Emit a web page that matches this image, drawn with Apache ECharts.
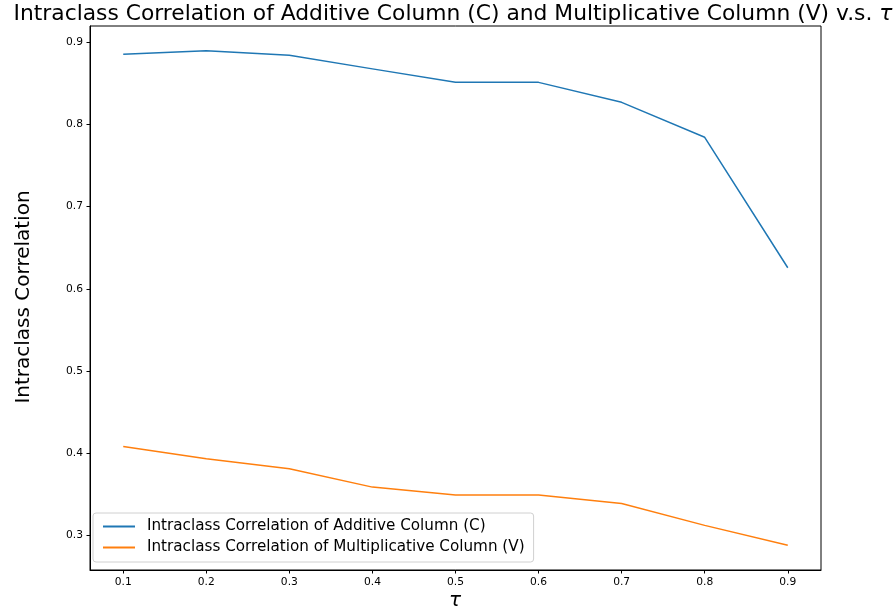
<!DOCTYPE html>
<html>
<head>
<meta charset="utf-8">
<script src="https://cdn.jsdelivr.net/npm/echarts@6/dist/echarts.min.js"></script>
<style>
html,body{margin:0;padding:0;background:#fff;}
#chart{width:896px;height:614px;}
</style>
</head>
<body>
<div id="chart"></div>
<script>
const tau = [0.1, 0.2, 0.3, 0.4, 0.5, 0.6, 0.7, 0.8, 0.9];
const additiveICC = [0.8854, 0.8898, 0.8842, 0.8677, 0.8513, 0.8513, 0.8270, 0.7844, 0.6256];
const multiplicativeICC = [0.4080, 0.3930, 0.3810, 0.3586, 0.3490, 0.3490, 0.3386, 0.3120, 0.2878];
const xTicks = [0.1, 0.2, 0.3, 0.4, 0.5, 0.6, 0.7, 0.8, 0.9];
const yTicks = [0.3, 0.4, 0.5, 0.6, 0.7, 0.8, 0.9];
const seriesNames = ['Intraclass Correlation of Additive Column (C)', 'Intraclass Correlation of Multiplicative Column (V)'];
const titleMain = 'Intraclass Correlation of Additive Column (C) and Multiplicative Column (V) v.s. ';
const titleSym = '\u03C4';

const font = 'DejaVu Sans';
const chart = echarts.init(document.getElementById('chart'));
const pairs = (xs, ys) => xs.map((x, i) => [x, ys[i]]);

chart.setOption({
  animation: false,
  backgroundColor: '#fff',
  grid: {left: 90, right: 75, top: 26, bottom: 44, show: true, borderColor: '#000', borderWidth: 1, backgroundColor: 'transparent'},
  xAxis: {
    type: 'value', min: 0.06, max: 0.94,
    axisLine: {show: true, lineStyle: {color: '#000', width: 1}},
    axisTick: {show: true, customValues: xTicks, length: 3.5, lineStyle: {color: '#000'}},
    axisLabel: {customValues: xTicks, formatter: v => v.toFixed(1), fontFamily: font, fontSize: 10.7, color: '#000', margin: 7},
    splitLine: {show: false}
  },
  yAxis: {
    type: 'value', min: 0.2577, max: 0.9199,
    axisLine: {show: true, lineStyle: {color: '#000', width: 1}},
    axisTick: {show: true, customValues: yTicks, length: 3.5, lineStyle: {color: '#000'}},
    axisLabel: {customValues: yTicks, formatter: v => v.toFixed(1), fontFamily: font, fontSize: 10.7, color: '#000', margin: 7},
    splitLine: {show: false}
  },
  legend: {
    orient: 'vertical', left: 93, top: 513,
    data: seriesNames,
    icon: 'rect', itemWidth: 32, itemHeight: 2, itemGap: 4,
    padding: [5, 9, 6, 10],
    borderColor: '#d0d0d0', borderWidth: 1, borderRadius: 3, backgroundColor: 'rgba(255,255,255,0.8)',
    textStyle: {fontFamily: font, fontSize: 15.2, color: '#000', lineHeight: 17, padding: [0, 0, 0, 7]}
  },
  graphic: [
    {type: 'text', x: 453, y: 14, style: {
      text: titleMain + '{i|' + titleSym + '}',
      font: '21.8px "DejaVu Sans"', fill: '#000', textAlign: 'center', textVerticalAlign: 'middle',
      rich: {i: {fontFamily: font, fontSize: 21.8, fontStyle: 'italic', fill: '#000'}}
    }},
    {type: 'text', x: 24, y: 297, rotation: Math.PI / 2, style: {text: 'Intraclass Correlation', font: '20px "DejaVu Sans"', fill: '#000', textAlign: 'center', textVerticalAlign: 'middle'}},
    {type: 'text', x: 455, y: 601, style: {text: '\u03C4', font: 'italic 20px "DejaVu Sans"', fill: '#000', textAlign: 'center', textVerticalAlign: 'middle'}}
  ],
  series: [
    {name: seriesNames[0], type: 'line', data: pairs(tau, additiveICC), showSymbol: false, lineStyle: {width: 1.5, color: '#1f77b4'}, itemStyle: {color: '#1f77b4'}},
    {name: seriesNames[1], type: 'line', data: pairs(tau, multiplicativeICC), showSymbol: false, lineStyle: {width: 1.5, color: '#ff7f0e'}, itemStyle: {color: '#ff7f0e'}}
  ]
});
</script>
</body>
</html>
